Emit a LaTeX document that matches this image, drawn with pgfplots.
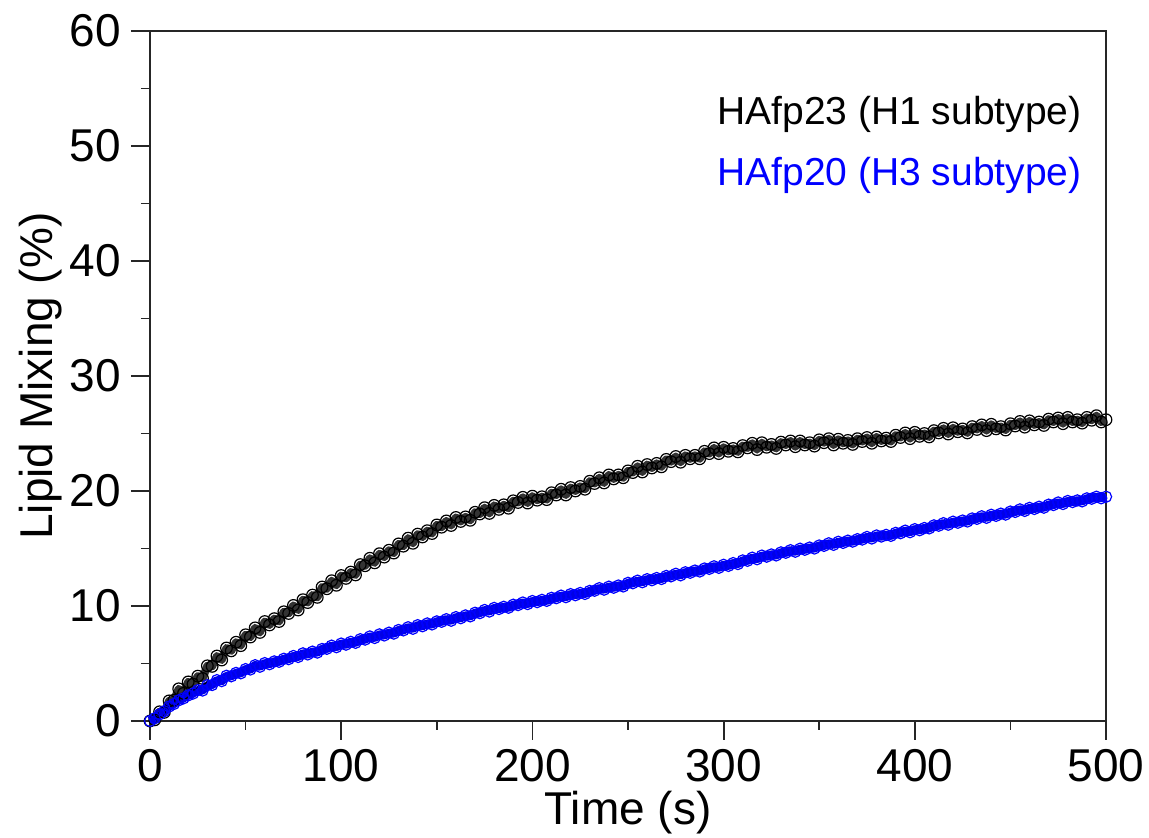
\documentclass[border=0pt]{standalone}
\usepackage{fontspec}
\setmainfont{Liberation Sans}
\usepackage{pgfplots}
\usepackage{pgfplotstable}
\pgfplotsset{compat=1.18}
\pgfplotstableread{
t b h
0 0.00 0.00
2.5 0.10 0.24
5 0.80 0.58
7.5 0.75 0.85
10 1.75 1.26
12.5 1.80 1.48
15 2.80 1.80
17.5 2.40 1.97
20 3.40 2.23
22.5 3.20 2.39
25 3.90 2.68
27.5 3.70 2.65
30 4.80 3.11
32.5 4.75 3.13
35 5.65 3.55
37.5 5.30 3.47
40 6.35 3.93
42.5 6.10 3.89
45 6.85 4.18
47.5 6.55 4.15
50 7.50 4.51
52.5 7.30 4.48
55 8.10 4.85
57.5 7.70 4.72
60 8.65 5.03
62.5 8.35 4.94
65 8.90 5.18
67.5 8.65 5.15
70 9.50 5.41
72.5 9.35 5.38
75 10.05 5.65
77.5 9.65 5.57
80 10.55 5.88
82.5 10.30 5.79
85 10.95 6.03
87.5 10.75 5.95
90 11.65 6.26
92.5 11.50 6.28
95 12.20 6.55
97.5 11.80 6.42
100 12.65 6.73
102.5 12.40 6.64
105 12.95 6.88
107.5 12.70 6.80
110 13.60 7.11
112.5 13.50 7.08
115 14.15 7.35
117.5 13.75 7.22
120 14.55 7.53
122.5 14.25 7.44
125 14.85 7.68
127.5 14.60 7.60
130 15.40 7.91
132.5 15.20 7.88
135 15.90 8.15
137.5 15.45 8.02
140 16.25 8.33
142.5 16.00 8.24
145 16.55 8.48
147.5 16.30 8.40
150 17.05 8.66
152.5 16.85 8.63
155 17.40 8.85
157.5 17.00 8.72
160 17.70 9.03
162.5 17.35 8.94
165 17.75 9.18
167.5 17.45 9.10
170 18.15 9.41
172.5 18.00 9.38
175 18.55 9.65
177.5 18.05 9.52
180 18.75 9.83
182.5 18.40 9.74
185 18.80 9.93
187.5 18.50 9.85
190 19.15 10.11
192.5 19.00 10.08
195 19.45 10.30
197.5 18.95 10.17
200 19.55 10.43
202.5 19.20 10.34
205 19.50 10.53
207.5 19.25 10.45
210 19.85 10.71
212.5 19.65 10.68
215 20.15 10.90
217.5 19.65 10.77
220 20.30 11.03
222.5 20.00 10.94
225 20.40 11.13
227.5 20.15 11.05
230 20.85 11.31
232.5 20.65 11.33
235 21.15 11.55
237.5 20.70 11.42
240 21.40 11.68
242.5 21.05 11.59
245 21.40 11.78
247.5 21.15 11.70
250 21.75 12.01
252.5 21.60 11.98
255 22.15 12.20
257.5 21.65 12.07
260 22.30 12.33
262.5 22.00 12.24
265 22.40 12.43
267.5 22.10 12.35
270 22.75 12.61
272.5 22.55 12.58
275 23.00 12.80
277.5 22.50 12.67
280 23.10 12.93
282.5 22.80 12.89
285 23.10 13.08
287.5 22.80 13.00
290 23.45 13.26
292.5 23.25 13.23
295 23.75 13.45
297.5 23.25 13.32
300 23.80 13.58
302.5 23.45 13.49
305 23.70 13.73
307.5 23.40 13.65
310 23.95 13.96
312.5 23.75 13.93
315 24.15 14.20
317.5 23.60 14.07
320 24.20 14.38
322.5 23.80 14.29
325 24.05 14.48
327.5 23.70 14.40
330 24.25 14.66
332.5 24.00 14.63
335 24.35 14.85
337.5 23.85 14.72
340 24.35 14.98
342.5 24.00 14.89
345 24.20 15.08
347.5 23.90 15.00
350 24.45 15.26
352.5 24.20 15.23
355 24.55 15.45
357.5 24.00 15.32
360 24.50 15.58
362.5 24.15 15.49
365 24.40 15.68
367.5 24.05 15.60
370 24.55 15.81
372.5 24.30 15.78
375 24.65 16.00
377.5 24.15 15.87
380 24.70 16.13
382.5 24.35 16.04
385 24.60 16.18
387.5 24.30 16.10
390 24.85 16.36
392.5 24.65 16.33
395 25.05 16.55
397.5 24.55 16.42
400 25.10 16.68
402.5 24.75 16.59
405 25.00 16.78
407.5 24.70 16.75
410 25.25 17.01
412.5 25.05 16.98
415 25.45 17.20
417.5 24.95 17.07
420 25.50 17.33
422.5 25.15 17.24
425 25.40 17.43
427.5 25.05 17.35
430 25.60 17.61
432.5 25.35 17.58
435 25.75 17.80
437.5 25.25 17.67
440 25.80 17.93
442.5 25.40 17.84
445 25.60 18.03
447.5 25.30 17.95
450 25.85 18.21
452.5 25.65 18.18
455 26.05 18.40
457.5 25.55 18.27
460 26.10 18.53
462.5 25.75 18.44
465 26.00 18.63
467.5 25.70 18.55
470 26.25 18.81
472.5 26.00 18.78
475 26.35 19.00
477.5 25.85 18.87
480 26.40 19.13
482.5 26.00 19.04
485 26.20 19.18
487.5 25.90 19.10
490 26.40 19.36
492.5 26.15 19.33
495 26.55 19.50
497.5 26.00 19.37
500 26.20 19.50
}\datatable

\begin{document}
\begin{tikzpicture}
\path[use as bounding box] (-75pt,-58.5pt) rectangle (499.5pt,360.5pt);
\begin{axis}[
  at={(0,0)}, anchor=south west,
  scale only axis, width=478pt, height=345pt,
  xmin=0, xmax=500, ymin=0, ymax=60,
  xtick={0,100,...,500}, ytick={0,10,...,60},
  minor xtick={50,150,...,450}, minor ytick={5,15,...,55},
  tick align=outside,
  major tick length=9.5pt, minor tick length=4.5pt,
  xtick pos=bottom, ytick pos=left,
  axis line style={line width=0.9pt, black!85},
  every tick/.style={line width=0.9pt, black!85},
  /pgf/number format/assume math mode=true,
  ticklabel style={font=\fontsize{23}{27}\selectfont},
  xticklabel style={anchor=north, inner sep=0pt, yshift=-4.5pt},
  yticklabel style={anchor=east, inner sep=0pt, xshift=-5pt},
  xlabel={Time (s)}, ylabel={Lipid Mixing (\%)},
  label style={font=\fontsize{23}{27}\selectfont},
  xlabel style={at={(axis description cs:0.5,-0.1507)}, anchor=base},
  ylabel style={at={(axis description cs:-0.1025,0.5)}, anchor=base},
  clip=false,
]
\addplot[black!80, line width=4pt, line join=round, mark=none] table[x=t, y=b] {\datatable};
\addplot[only marks, mark=o, mark size=2.9pt, black, mark options={line width=0.6pt}] table[x=t, y=b] {\datatable};
\addplot[blue!90!black, line width=4.2pt, line join=round, mark=none] table[x=t, y=h] {\datatable};
\addplot[only marks, mark=o, mark size=2.8pt, blue, mark options={line width=0.6pt}] table[x=t, y=h] {\datatable};
\node[anchor=base west, font=\fontsize{19.5}{23}\selectfont, text=black, inner sep=0pt] at (rel axis cs:0.5931,0.8638) {HAfp23 (H1 subtype)};
\node[anchor=base west, font=\fontsize{19.5}{23}\selectfont, text=blue, inner sep=0pt] at (rel axis cs:0.5931,0.7768) {HAfp20 (H3 subtype)};
\end{axis}
\end{tikzpicture}
\end{document}
